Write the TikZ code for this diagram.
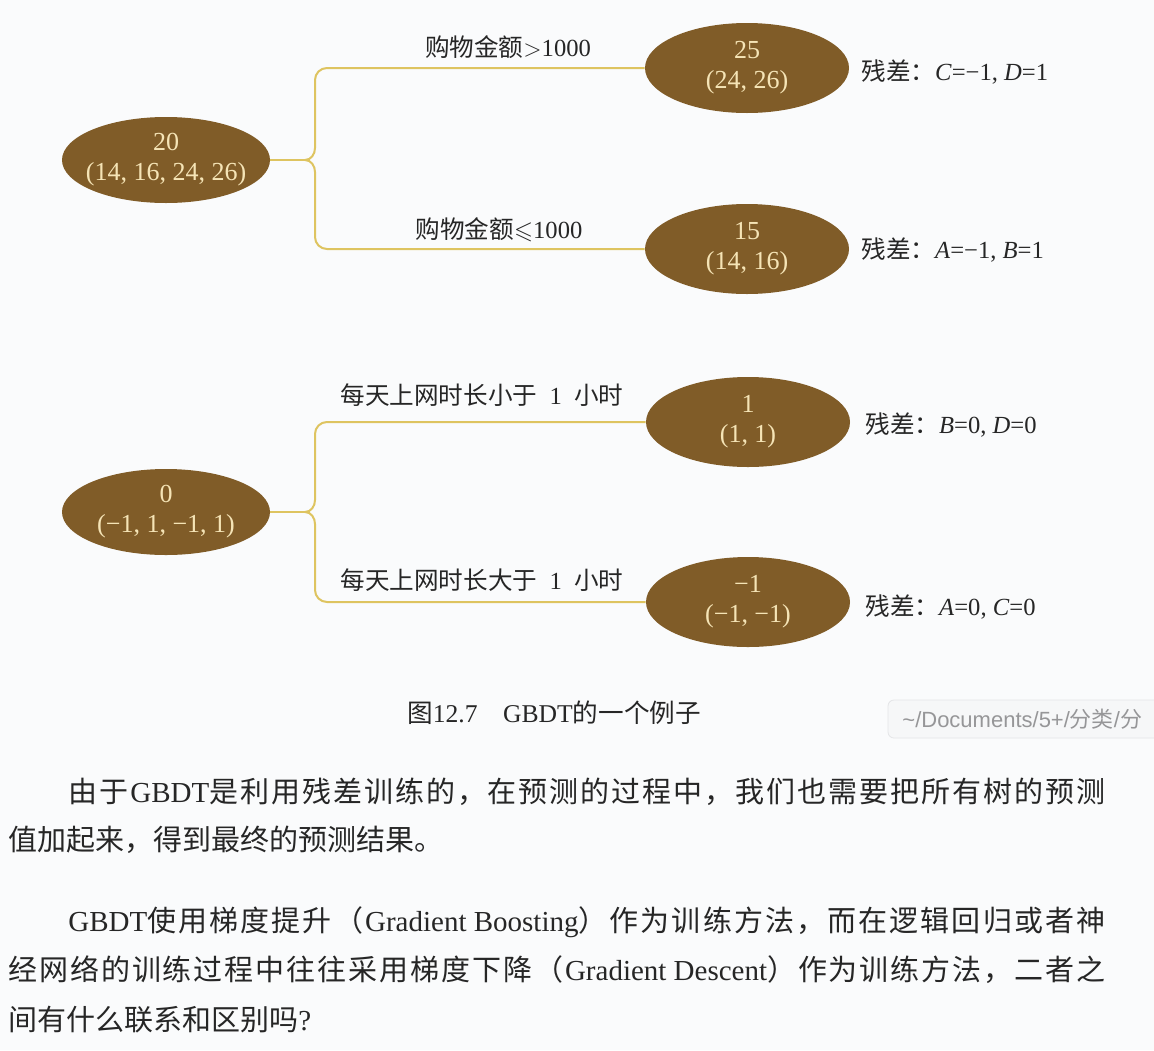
\documentclass[tikz,border=0pt]{standalone}
\usepackage{fontspec}
\usepackage{amssymb}
\usetikzlibrary{shapes.geometric}
\setmainfont{Liberation Serif}
\setsansfont{Liberation Sans}
\newfontfamily\cjk{Noto Sans CJK SC}
\newcommand{\zh}[1]{{\cjk #1}}
% spread Chinese characters so that a line fills its box
\def\spreadloop#1{\ifx#1\relax\else#1\hskip 0pt plus 1fil\expandafter\spreadloop\fi}
\newcommand{\zhs}[1]{{\cjk\spreadloop#1\relax}}
\definecolor{pagebg}{RGB}{250,251,252}
\definecolor{nodebrown}{RGB}{128,92,40}
\definecolor{nodetext}{RGB}{245,228,182}
\definecolor{branchgold}{RGB}{222,196,96}
\definecolor{inkgray}{RGB}{38,38,38}
\definecolor{tipfill}{RGB}{246,247,248}
\definecolor{tipedge}{RGB}{228,229,231}
\definecolor{tipgray}{RGB}{150,150,152}

\begin{document}
\begin{tikzpicture}[x=0.5pt,y=0.5pt,
  leaf/.style={ellipse, fill=nodebrown, text=nodetext, minimum width=102pt,
    minimum height=45pt, inner xsep=-14pt, inner ysep=-6pt, align=center,
    font=\fontsize{13}{15}\selectfont},
  rootleaf/.style={leaf, minimum width=104pt, minimum height=43pt},
  branch/.style={draw=branchgold, line width=1pt},
  cond/.style={inner sep=0pt, text=inkgray, font=\fontsize{12.3}{14}\selectfont},
  resid/.style={cond, anchor=west},
  body/.style={anchor=west, inner sep=0pt, text=inkgray, font=\fontsize{14.5}{18}\selectfont}]
\useasboundingbox (0,0) rectangle (1154,-1050);
\fill[pagebg] (0,0) rectangle (1154,-1050);

% first tree
\node[rootleaf] (r1) at (166,-160) {20\\(14, 16, 24, 26)};
\node[leaf] (c11) at (747,-68) {25\\(24, 26)};
\node[leaf] (c12) at (747,-249) {15\\(14, 16)};
\coordinate (k1) at (305,-160);
\draw[branch] (r1.east) -- (k1);
\draw[branch] (k1) to[out=0,in=-90] ++(10,12) [rounded corners=6pt] |- (c11.west);
\draw[branch] (k1) to[out=0,in=90] ++(10,-12) [rounded corners=6pt] |- (c12.west);
\node[cond] (q11) at (508,-47) {\zh{购物金额}$>$1000};
\node[cond] (q12) at (499,-230) {\zh{购物金额}$\leqslant$1000};
\node[resid] (e11) at (861,-72) {\zh{残差：}\textit{C}=−1, \textit{D}=1};
\node[resid] (e12) at (861,-250) {\zh{残差：}\textit{A}=−1, \textit{B}=1};

% second tree
\node[rootleaf] (r2) at (166,-512) {0\\(−1, 1, −1, 1)};
\node[leaf] (c21) at (748,-422) {1\\(1, 1)};
\node[leaf] (c22) at (748,-602) {−1\\(−1, −1)};
\coordinate (k2) at (305,-512);
\draw[branch] (r2.east) -- (k2);
\draw[branch] (k2) to[out=0,in=-90] ++(10,12) [rounded corners=6pt] |- (c21.west);
\draw[branch] (k2) to[out=0,in=90] ++(10,-12) [rounded corners=6pt] |- (c22.west);
\node[cond] (q21) at (482,-395) {\zh{每天上网时长小于}\enspace 1\enspace\zh{小时}};
\node[cond] (q22) at (482,-580) {\zh{每天上网时长大于}\enspace 1\enspace\zh{小时}};
\node[resid] (e21) at (865,-425) {\zh{残差：}\textit{B}=0, \textit{D}=0};
\node[resid] (e22) at (865,-607) {\zh{残差：}\textit{A}=0, \textit{C}=0};

% caption
\node[cond, font=\fontsize{12.8}{15}\selectfont] (cap) at (554,-713) {\zh{图}12.7\quad GBDT\zh{的一个例子}};

% path tooltip
\begin{scope}
\clip (0,0) rectangle (1154,-1050);
\draw[draw=tipedge, fill=tipfill, rounded corners=3pt] (888,-700) rectangle (1190,-738);
\node[anchor=west, inner sep=0pt, text=tipgray, font=\sffamily\fontsize{11}{13}\selectfont] (tip)
  at (902,-719) {\textasciitilde/Documents/5+/\zh{分类}/\zh{分}};
\end{scope}

% text below
\node[body] (p11) at (68,-792) {\hbox to 518.5pt{\zhs{由于}GBDT\zhs{是利用残差训练的，在预测的过程中，我们也需要把所有树的预测}\unskip}};
\node[body] (p12) at (8,-840) {\zh{值加起来，得到最终的预测结果。}};
\node[body] (p21) at (68,-922) {\hbox to 518.5pt{GBDT\zhs{使用梯度提升（}Gradient Boosting\zhs{）作为训练方法，而在逻辑回归或者神}\unskip}};
\node[body] (p22) at (8,-970) {\hbox to 548.5pt{\zhs{经网络的训练过程中往往采用梯度下降（}Gradient Descent\zhs{）作为训练方法，二者之}\unskip}};
\node[body] (p23) at (8,-1020) {\zh{间有什么联系和区别吗}?};
\end{tikzpicture}
\end{document}
